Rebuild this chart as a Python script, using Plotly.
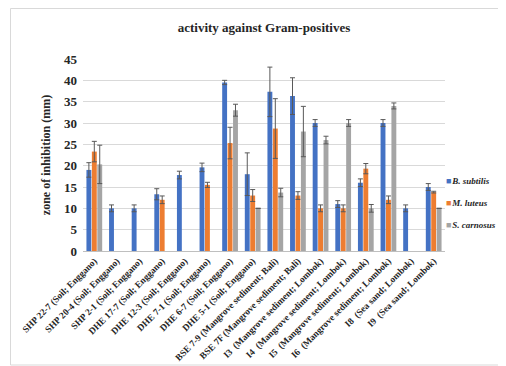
import plotly.graph_objects as go

categories = [
    "SHP 22-7 (Soil; Enggano)", "SHP 20-4 (Soil; Enggano)", "SHP 2-1 (Soil; Enggano)",
    "DHE 17-7 (Soil; Enggano)", "DHE 12-3 (Soil; Enggano)", "DHE 7-1 (Soil; Enggano)",
    "DHE 6-7 (Soil; Enggano)", "DHE 5-1 (Soil; Enggano)",
    "BSE 7-9 (Mangrove sediment; Bali)", "BSE 7F (Mangrove sediment; Bali)",
    "I3  (Mangrove sediment; Lombok)", "I4  (Mangrove sediment; Lombok)",
    "I5  (Mangrove sediment; Lombok)", "I6  (Mangrove sediment; Lombok)",
    "I8  (Sea sand; Lombok)", "I9  (Sea sand; Lombok)",
]

b_subtilis = [19.0, 10.0, 10.0, 13.3, 17.8, 19.6, 39.5, 18.0, 37.3, 36.3, 30.0, 11.0, 16.0, 30.0, 10.0, 15.0]
b_subtilis_err = [1.7, 0.8, 0.8, 1.3, 0.9, 1.0, 0.5, 5.0, 5.8, 4.3, 0.8, 0.8, 0.9, 0.8, 0.8, 0.8]
m_luteus = [23.3, None, None, 12.0, None, 15.5, 25.3, 13.0, 28.7, 13.0, 10.0, 10.0, 19.3, 12.0, None, 13.8]
m_luteus_err = [2.4, 0, 0, 0.9, 0, 0.6, 3.7, 1.4, 7.0, 0.9, 0.8, 0.8, 1.2, 0.9, 0, 0.2]
s_carnosus = [20.3, None, None, None, None, None, 33.0, 10.0, 13.7, 28.0, 26.0, 30.0, 10.0, 34.0, None, 10.0]
s_carnosus_err = [4.5, 0, 0, 0, 0, 0, 1.4, 0, 1.0, 5.9, 0.9, 0.8, 0.9, 0.7, 0, 0]

series_names = ["B. subtilis", "M. luteus", "S. carnosus"]
series_values = [b_subtilis, m_luteus, s_carnosus]
series_errors = [b_subtilis_err, m_luteus_err, s_carnosus_err]
series_colors = ["#4472C4", "#ED7D31", "#A5A5A5"]

SERIF = "Liberation Serif, serif"
TXT = "#262626"

# page body has an 8px offset; figure-coordinate layout compensates
W, H = 506, 366
L, R, T, B = 75, 69, 51, 123
PW, PH = W - L - R, H - T - B


def px(x):
    return (x - L) / PW


def py(y):
    return (H - B - y) / PH


fig = go.Figure()
for name, vals, errs, color in zip(series_names, series_values, series_errors, series_colors):
    fig.add_trace(go.Bar(
        x=categories, y=vals, name=name, showlegend=False,
        marker=dict(color=color, line=dict(width=0)),
        error_y=dict(type="data", array=errs, visible=True, color="#595959",
                     thickness=1, width=2.5),
    ))

annotations = []
for k, (name, color) in enumerate(zip(series_names, series_colors)):
    annotations.append(dict(
        xref="paper", yref="paper", x=px(436), y=py(173 + 22 * k),
        xanchor="left", yanchor="middle", showarrow=False,
        text="<span style='color:%s;font-size:9px'>■</span>&#8202;<b><i>%s</i></b>" % (color, name),
        font=dict(family=SERIF, size=9, color=TXT),
    ))

fig.update_layout(
    width=W, height=H,
    margin=dict(l=L, r=R, t=T, b=B, autoexpand=False),
    paper_bgcolor="white", plot_bgcolor="white",
    barmode="group", bargap=0.28, bargroupgap=0.1,
    title=dict(text="<b>activity against Gram-positives</b>", x=0.5, xref="paper",
               xanchor="center", y=1 - 19 / H, yanchor="middle",
               font=dict(family=SERIF, size=13, color=TXT)),
    font=dict(family=SERIF, color=TXT),
    showlegend=False,
    annotations=annotations,
    xaxis=dict(tickangle=-45, tickfont=dict(family=SERIF, size=9.3, color=TXT),
               showline=True, linecolor="#BFBFBF", linewidth=1, ticks="",
               showgrid=False, automargin=False,
               tickprefix="<b>", ticksuffix="</b>"),
    yaxis=dict(range=[0, 45], dtick=5, tickfont=dict(family=SERIF, size=13, color=TXT),
               gridcolor="#D9D9D9", gridwidth=1, zeroline=False, showline=False,
               tickprefix="<b>", ticksuffix="</b>", ticklabelstandoff=5,
               automargin=False,
               title=dict(text="<b>zone of inhibition (mm)</b>", standoff=10,
                          font=dict(family=SERIF, size=12, color=TXT))),
)

fig.add_shape(type="rect", xref="paper", yref="paper",
              x0=px(2.5), x1=px(520), y0=py(357), y1=py(0.5),
              line=dict(color="#D9D9D9", width=1), fillcolor="rgba(0,0,0,0)", layer="below")

fig.write_html("out.html")
